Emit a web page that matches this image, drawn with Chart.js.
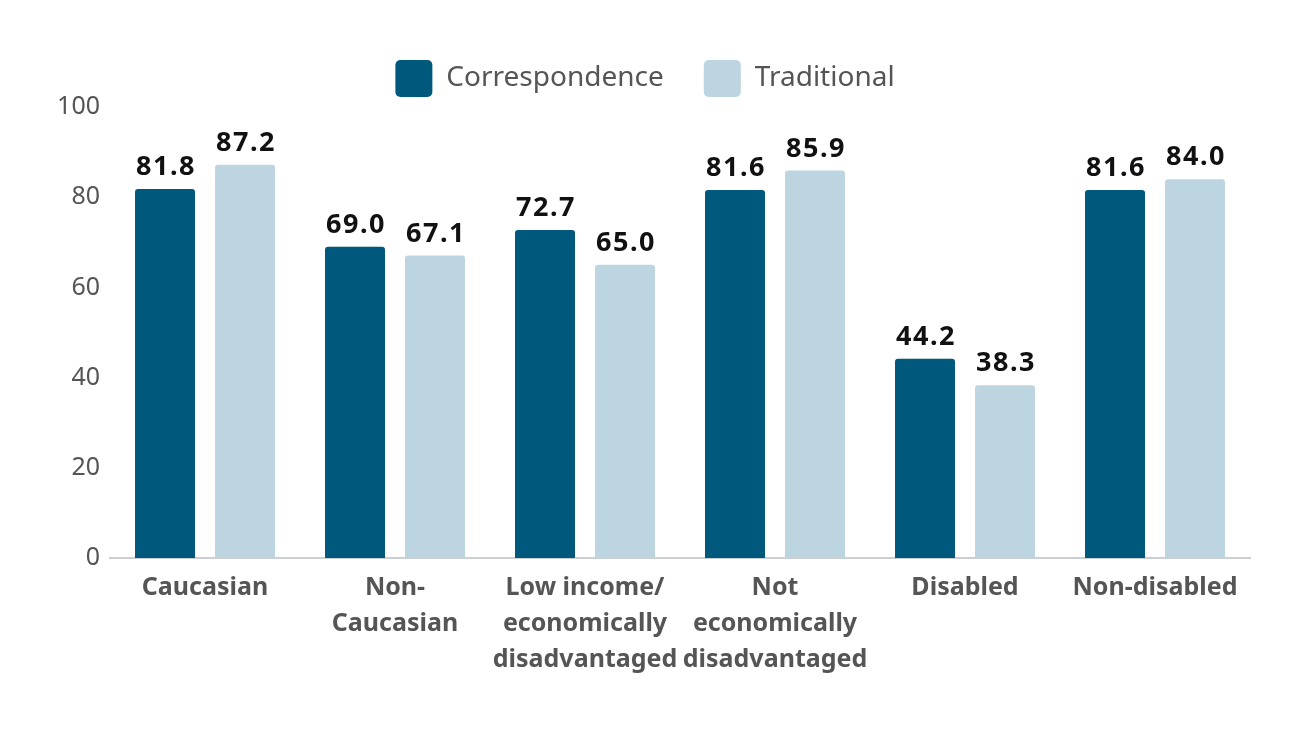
<!DOCTYPE html>
<html>
<head>
<meta charset="utf-8">
<script src="https://cdn.jsdelivr.net/npm/chart.js@4/dist/chart.umd.min.js"></script>
<style>
  html, body { margin: 0; padding: 0; background: #fff; }
  #wrap { width: 1300px; height: 740px; }
</style>
</head>
<body>
<div id="wrap"><canvas id="chart"></canvas></div>
<script>
const categories = [
    ['Caucasian'],
    ['Non-', 'Caucasian'],
    ['Low income/', 'economically', 'disadvantaged'],
    ['Not', 'economically', 'disadvantaged'],
    ['Disabled'],
    ['Non-disabled']
];
const correspondence = [81.8, 69.0, 72.7, 81.6, 44.2, 81.6];
const traditional = [87.2, 67.1, 65.0, 85.9, 38.3, 84.0];
const yTicks = [0, 20, 40, 60, 80, 100];

const FONT = "'Noto Sans', 'Open Sans', sans-serif";

// draw the value above each bar
const barLabels = {
    id: 'barLabels',
    afterDatasetsDraw(chart) {
        const ctx = chart.ctx;
        ctx.save();
        ctx.font = 'bold 27px ' + FONT;
        ctx.letterSpacing = '1.5px';
        ctx.fillStyle = '#111';
        ctx.textAlign = 'center';
        ctx.textBaseline = 'bottom';
        chart.data.datasets.forEach(function (ds, i) {
            chart.getDatasetMeta(i).data.forEach(function (bar, j) {
                ctx.fillText(ds.data[j].toFixed(1), bar.x + 1, bar.y - 8);
            });
        });
        ctx.restore();
    }
};

new Chart(document.getElementById('chart'), {
    type: 'bar',
    data: {
        labels: categories,
        datasets: [
            {
                label: 'Correspondence',
                data: correspondence,
                backgroundColor: '#00597c',
                borderRadius: 3
            },
            {
                label: 'Traditional',
                data: traditional,
                backgroundColor: '#bdd5e0',
                borderRadius: 3
            }
        ]
    },
    options: {
        responsive: true,
        maintainAspectRatio: false,
        animation: false,
        datasets: {
            bar: { categoryPercentage: 0.842, barPercentage: 0.75 }
        },
        layout: { padding: { top: 20, left: 40, right: 50, bottom: 0 } },
        plugins: {
            tooltip: { enabled: false },
            legend: {
                position: 'top',
                labels: {
                    font: { family: FONT, size: 28 },
                    color: '#555',
                    boxWidth: 37,
                    boxHeight: 37,
                    useBorderRadius: true,
                    borderRadius: 5,
                    padding: 40
                }
            }
        },
        scales: {
            x: {
                grid: { display: false, drawTicks: false },
                border: { color: '#c9cfd3', width: 2 },
                ticks: {
                    font: { family: FONT, size: 25, weight: 'bold', lineHeight: 1.44 },
                    color: '#555',
                    padding: 12,
                    maxRotation: 0,
                    autoSkip: false
                },
                afterFit(scale) { scale.height = 182; }
            },
            y: {
                min: 0,
                max: 100,
                afterBuildTicks(scale) {
                    scale.ticks = yTicks.map(v => ({ value: v }));
                },
                grid: { display: false, drawTicks: false },
                border: { display: false },
                ticks: {
                    font: { family: FONT, size: 25 },
                    color: '#555',
                    padding: 10
                },
                afterFit(scale) { scale.width = 70; }
            }
        }
    },
    plugins: [barLabels]
});
</script>
</body>
</html>
